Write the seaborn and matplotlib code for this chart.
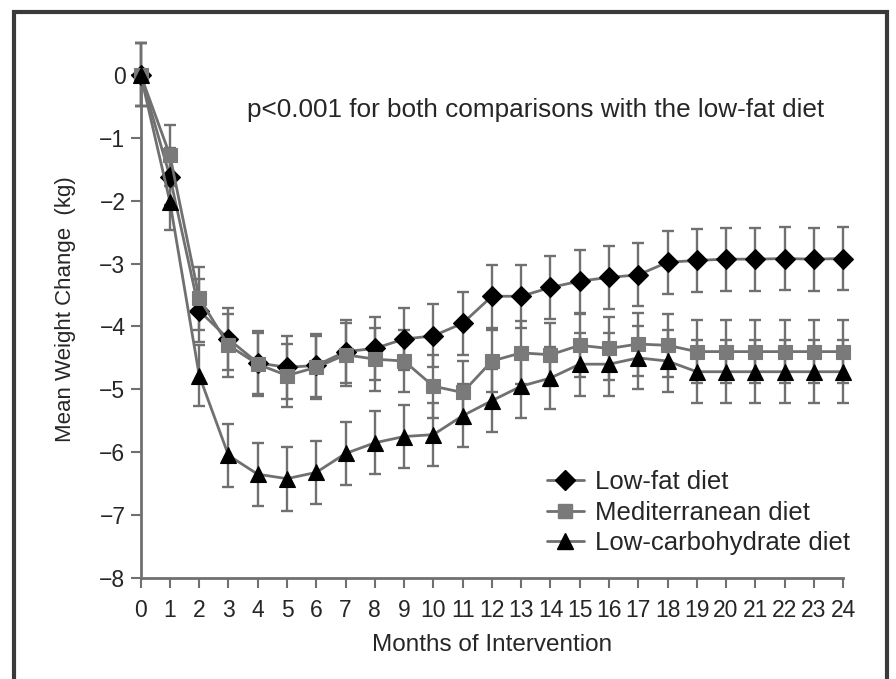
import numpy as np
import pandas as pd
import seaborn as sns
import matplotlib.pyplot as plt
from matplotlib.patches import Rectangle
from matplotlib.lines import Line2D

# Values (kg change vs months)
months = list(range(0, 25))
low_fat = [0, -1.62, -3.75, -4.2, -4.58, -4.65, -4.62, -4.4, -4.35, -4.2, -4.15, -3.95, -3.52,
           -3.52, -3.38, -3.28, -3.22, -3.18, -2.98, -2.95, -2.93, -2.93, -2.92, -2.93, -2.92]
low_fat_se = [0.5, 0.45, 0.5, 0.5, 0.5, 0.5, 0.5, 0.5, 0.5, 0.5, 0.5, 0.5, 0.5,
              0.5, 0.5, 0.5, 0.5, 0.5, 0.5, 0.5, 0.5, 0.5, 0.5, 0.5, 0.5]
mediterranean = [0, -1.28, -3.55, -4.3, -4.6, -4.78, -4.65, -4.45, -4.52, -4.55, -4.95, -5.05, -4.55,
                 -4.42, -4.45, -4.3, -4.35, -4.28, -4.3, -4.4, -4.4, -4.4, -4.4, -4.4, -4.4]
mediterranean_se = [0.5, 0.48, 0.5, 0.5, 0.5, 0.5, 0.5, 0.5, 0.5, 0.5, 0.5, 0.5, 0.5,
                    0.5, 0.5, 0.5, 0.5, 0.5, 0.5, 0.5, 0.5, 0.5, 0.5, 0.5, 0.5]
low_carb = [0, -2.02, -4.78, -6.05, -6.35, -6.42, -6.32, -6.02, -5.85, -5.75, -5.72, -5.42, -5.18,
            -4.95, -4.82, -4.6, -4.6, -4.5, -4.55, -4.72, -4.72, -4.72, -4.72, -4.72, -4.72]
low_carb_se = [0.5, 0.45, 0.48, 0.5, 0.5, 0.51, 0.5, 0.5, 0.5, 0.5, 0.5, 0.5, 0.5,
               0.5, 0.5, 0.5, 0.5, 0.5, 0.5, 0.5, 0.5, 0.5, 0.5, 0.5, 0.5]
diet_names = ['Low-fat diet', 'Mediterranean diet', 'Low-carbohydrate diet']

sns.set_theme(style='white')
plt.rcParams['font.family'] = ['Liberation Sans', 'DejaVu Sans']

fig = plt.figure(figsize=(8.96, 6.79), dpi=100)
ax = fig.add_axes([0.157, 0.1487, 0.784, 0.792])

line_grey = '#707070'
series = [
    (diet_names[0], low_fat, low_fat_se, 'D', 'black', 10.5),
    (diet_names[1], mediterranean, mediterranean_se, 's', '#7a7a7a', 9.5),
    (diet_names[2], low_carb, low_carb_se, '^', 'black', 11),
]

handles = []
for name, vals, se, mk, mcol, ms in series:
    df = pd.DataFrame({'month': months, 'change': vals, 'se': se})
    ax.errorbar(df['month'], df['change'], yerr=df['se'], fmt='none',
                ecolor=line_grey, elinewidth=1.7, capsize=4.5, capthick=1.7, clip_on=False, zorder=2)
    sns.lineplot(data=df, x='month', y='change', ax=ax, color=line_grey, linewidth=2,
                 marker=mk, markersize=ms, markerfacecolor=mcol, markeredgecolor=mcol,
                 markeredgewidth=0.8, clip_on=False, zorder=3)
    handles.append(Line2D([], [], color=line_grey, linewidth=2, marker=mk, markersize=ms,
                          markerfacecolor=mcol, markeredgecolor=mcol))

ax.set_xlim(0, 24)
ax.set_ylim(-8, 0.55)
ax.set_xticks(months)
ax.set_yticks(range(-8, 1))
ax.tick_params(axis='both', direction='out', length=7, width=1.5, color=line_grey,
               labelsize=16.5, bottom=True, left=True)
ax.tick_params(axis='x', pad=8)
ax.tick_params(axis='y', pad=4)
for side in ['top', 'right']:
    ax.spines[side].set_visible(False)
for side in ['left', 'bottom']:
    ax.spines[side].set_color(line_grey)
    ax.spines[side].set_linewidth(2)
ax.spines['left'].set_bounds(-8, 0)

ax.set_xlabel('Months of Intervention', fontsize=17.5, labelpad=9)
ax.set_ylabel('Mean Weight Change  (kg)', fontsize=16, labelpad=17)

ax.text(3.62, -0.56, 'p<0.001 for both comparisons with the low-fat diet', fontsize=18.8,
        ha='left', va='center')

ax.legend(handles, diet_names, loc='lower right', bbox_to_anchor=(1.025, 0.023), frameon=False,
          fontsize=18.5, handlelength=1.45, handletextpad=0.45, labelspacing=0.26, borderaxespad=0)

# outer frame of the scanned figure
fig.patches.append(Rectangle((14 / 896, -0.05), 873 / 896, 1.05 - 12 / 679,
                             transform=fig.transFigure, fill=False, edgecolor='#3a3a3a',
                             linewidth=3))

fig.savefig('out.png', dpi=100)
